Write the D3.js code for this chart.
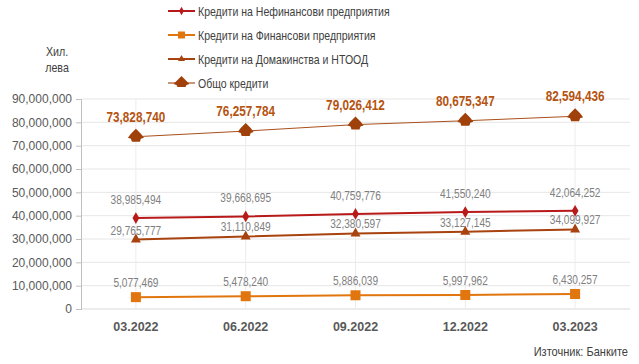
<!DOCTYPE html>
<html><head><meta charset="utf-8">
<script src="https://cdn.jsdelivr.net/npm/d3@7/dist/d3.min.js"></script>
<style>
body{margin:0;background:#fff;}
svg text{font-family:"Liberation Sans",Arial,sans-serif;}
</style></head>
<body><svg id="c" width="639" height="364"></svg>
<script>
const categories = ["03.2022","06.2022","09.2022","12.2022","03.2023"];
const nonFinancial = [38985494,39668695,40759776,41550240,42064252];
const financial = [5077469,5478240,5886039,5997962,6430257];
const households = [29765777,31110849,32380597,33127145,34099927];
const total = [73828740,76257784,79026412,80675347,82594436];
const seriesNames = ["Кредити на Нефинансови предприятия","Кредити на Финансови предприятия","Кредити на Домакинства и НТООД","Общо кредити"];
const yTicks = [0,10000000,20000000,30000000,40000000,50000000,60000000,70000000,80000000,90000000];

const svg = d3.select("#c");
const W=639,H=364;
const m = {left:81, right:9, top:99, bottom:55};
const x = d3.scaleBand().domain(categories).range([m.left, W-m.right]);
const y = d3.scaleLinear().domain([0,90000000]).range([H-m.bottom, m.top]);
const cx = d => x(d)+x.bandwidth()/2;
const fmt = d3.format(",");

// narrow text helper
function ntext(g, px, py, str, opts){
  const t = g.append("text")
    .attr("transform",`translate(${px},${py}) scale(${opts.sx||0.8},1)`)
    .attr("text-anchor",opts.anchor||"start")
    .attr("fill",opts.fill||"#404040")
    .style("font-size",(opts.size||13)+"px")
    .style("font-weight",opts.bold?"bold":"normal")
    .text(str);
  return t;
}

// gridlines
svg.append("g").selectAll("line").data(yTicks).join("line")
  .attr("x1",m.left).attr("x2",W-m.right)
  .attr("y1",d=>y(d)).attr("y2",d=>y(d))
  .attr("stroke",d=>d===0?"#d9d9d9":"#e6e6e6").attr("stroke-width",1);
svg.append("g").selectAll("line").data(categories).join("line")
  .attr("x1",cx).attr("x2",cx)
  .attr("y1",y(90000000)).attr("y2",y(0))
  .attr("stroke","#ececec").attr("stroke-width",1);

// y axis
const ya = svg.append("g").attr("transform",`translate(${m.left},0)`)
  .call(d3.axisLeft(y).tickValues(yTicks).tickFormat(fmt).tickSize(5).tickPadding(4));
ya.select(".domain").attr("stroke","#bfbfbf");
ya.selectAll(".tick line").attr("stroke","#bfbfbf");
ya.selectAll(".tick text").attr("fill","#595959").style("font-size","12px");

// x axis labels
const xa = svg.append("g").attr("transform",`translate(0,${y(0)})`)
  .call(d3.axisBottom(x).tickSize(0).tickPadding(13));
xa.select(".domain").remove();
xa.selectAll(".tick text").attr("fill","#595959").style("font-size","12.5px").style("font-weight","bold");

const series = [
  {name:seriesNames[0], vals:nonFinancial, color:"#b81a1a", width:2, marker:"diamond"},
  {name:seriesNames[1], vals:financial, color:"#e2760e", width:2, marker:"square"},
  {name:seriesNames[2], vals:households, color:"#a8420f", width:2, marker:"triangle"},
  {name:seriesNames[3], vals:total, color:"#a8501c", width:1, marker:"big"}
];

function marker(g, type, color){
  if(type==="diamond") g.append("path").attr("d",d3.symbol(d3.symbolDiamond,40)()).attr("fill",color);
  else if(type==="square") g.append("rect").attr("x",-5).attr("y",-5).attr("width",10).attr("height",10).attr("fill",color);
  else if(type==="triangle") g.append("path").attr("d","M0,-6L5,3L-5,3Z").attr("fill",color);
  else g.append("path").attr("d","M0,-8L5,-3L8,1L5,2L4,5L-4,5L-5,2L-8,1L-5,-3Z").attr("fill","#a0400a");
}

const line = d3.line();
series.forEach(s=>{
  const pts = categories.map((c,i)=>[cx(c), y(s.vals[i])]);
  svg.append("path").attr("d",line(pts)).attr("fill","none").attr("stroke",s.color).attr("stroke-width",s.width);
  pts.forEach(p=>{
    const g=svg.append("g").attr("transform",`translate(${p[0]},${p[1]})`);
    marker(g,s.marker,s.color);
  });
});

// data labels
function labels(vals, dy, color, size, bold, sx){
  const g = svg.append("g");
  vals.forEach((d,i)=>ntext(g, cx(categories[i]), y(d)+dy, fmt(d), {anchor:"middle", fill:color, size:size, bold:bold, sx:sx}));
}
labels(total,-15,"#b5530f",14,true,0.84);
labels(nonFinancial,-14,"#7f7f7f",13,false,0.78);
labels(households,-5,"#7f7f7f",13,false,0.78);
labels(financial,-10,"#7f7f7f",13,false,0.78);

// legend
const lg = svg.append("g");
series.forEach((s,i)=>{
  const yy = 11 + i*24;
  lg.append("line").attr("x1",168).attr("x2",195).attr("y1",yy).attr("y2",yy).attr("stroke",s.color).attr("stroke-width",s.width===1?1.2:2);
  const g=lg.append("g").attr("transform",`translate(181.5,${yy})`);
  if(s.marker==="diamond") g.append("path").attr("d",d3.symbol(d3.symbolDiamond,20)()).attr("fill",s.color);
  else if(s.marker==="square") g.append("rect").attr("x",-3.5).attr("y",-3.5).attr("width",7).attr("height",7).attr("fill",s.color);
  else if(s.marker==="triangle") g.append("path").attr("d","M0,-4L3.5,2L-3.5,2Z").attr("fill",s.color);
  else g.append("path").attr("d","M0,-7L5,-2L8,1L5,2L4,4L-4,4L-5,2L-8,1L-5,-2Z").attr("fill","#a0400a");
  ntext(lg, 198, yy+4.5, s.name, {size:13, sx:0.81});
});

// unit label
ntext(svg, 57, 56, "Хил.", {anchor:"middle", size:13, sx:0.82});
ntext(svg, 57, 72, "лева", {anchor:"middle", size:13, sx:0.82});

// source
ntext(svg, 628, 356, "Източник: Банките", {anchor:"end", size:13, sx:0.85});
</script></body></html>
